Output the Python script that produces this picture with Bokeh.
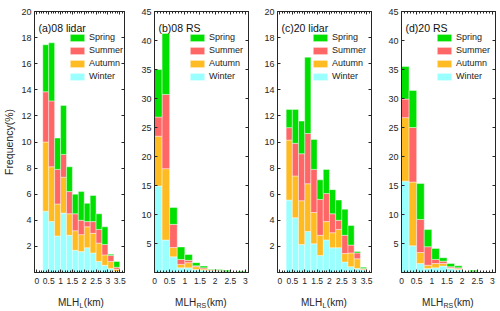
from bokeh.plotting import figure
from bokeh.layouts import row, column
from bokeh.models import (FixedTicker, LinearAxis, Legend, LegendItem, Label,
                          Range1d, ColumnDataSource, CustomJSTickFormatter)
from bokeh.embed import file_html
from bokeh.resources import INLINE

# ---------------- data ----------------
seasons = ["Winter", "Autumn", "Summer", "Spring"]          # stacking order (bottom -> top)
legend_order = ["Spring", "Summer", "Autumn", "Winter"]
season_colors = ["#99FFFF", "#FFBB22", "#FF6666", "#00E000"]

# lower edges of the 0.25 km bins
lidar_bin_left = [0.25, 0.5, 0.75, 1.0, 1.25, 1.5, 1.75, 2.0, 2.25, 2.5, 2.75, 3.0, 3.25]
rs_bin_left = [0.0, 0.25, 0.5, 0.75, 1.0, 1.25, 1.5, 1.75, 2.0, 2.25, 2.5, 2.75]
bin_width = 0.25

# (a) 08 lidar, frequency (%) per season
a_winter = [4.7, 3.9, 2.8, 4.55, 2.85, 1.7, 1.6, 1.9, 1.5, 0.85, 0.55, 0.3, 0.1]
a_autumn = [5.3, 4.2, 2.45, 2.75, 1.65, 1.5, 1.3, 1.6, 1.5, 1.4, 0.8, 0.55, 0.15]
a_summer = [3.85, 5.05, 2.65, 1.75, 1.7, 1.3, 1.1, 0.4, 0.9, 1.05, 0.8, 0.45, 0.15]
a_spring = [3.6, 4.45, 2.4, 3.75, 1.9, 1.5, 2.2, 1.4, 2.0, 1.2, 1.35, 0.1, 0.45]

# (b) 08 RS
b_winter = [14.9, 5.6, 2.7, 0.8, 0.8, 0.5, 0.4, 0.25, 0.2, 0.05, 0.02, 0.05]
b_autumn = [8.6, 12.3, 1.6, 0.6, 0.9, 0.5, 0.2, 0.15, 0.1, 0.05, 0.0, 0.0]
b_summer = [3.3, 12.8, 4.0, 0.85, 0.4, 0.15, 0.2, 0.1, 0.1, 0.05, 0.0, 0.0]
b_spring = [8.2, 10.5, 2.9, 2.15, 1.0, 0.55, 0.3, 0.1, 0.1, 0.25, 0.03, 0.15]

# (c) 20 lidar
c_winter = [5.55, 4.2, 2.15, 3.15, 2.2, 1.3, 2.5, 1.9, 1.9, 0.8, 0.45, 0.3, 0.2]
c_autumn = [4.6, 3.2, 3.35, 3.65, 2.4, 1.55, 1.4, 1.15, 1.4, 0.65, 1.05, 0.75, 0.05]
c_summer = [0.95, 2.5, 3.6, 3.85, 3.3, 2.75, 2.15, 1.45, 0.7, 1.4, 0.6, 0.45, 0.05]
c_spring = [1.4, 2.6, 2.5, 5.85, 2.3, 1.5, 1.85, 1.85, 1.55, 2.0, 1.5, 0.1, 0.1]

# (d) 20 RS
d_winter = [15.75, 4.6, 1.55, 0.7, 0.8, 1.1, 0.7, 0.5, 0.05, 0.1, 0.05, 0.03]
d_autumn = [10.95, 11.0, 1.9, 0.55, 0.75, 0.45, 0.1, 0.15, 0.02, 0.02, 0.0, 0.0]
d_summer = [3.2, 9.4, 5.7, 3.2, 0.7, 0.4, 0.2, 0.15, 0.02, 0.02, 0.0, 0.0]
d_spring = [5.6, 6.4, 6.2, 2.95, 1.9, 0.6, 0.55, 0.35, 0.05, 0.25, 0.05, 0.03]

panel_titles = ["(a)08 lidar", "(b)08 RS", "(c)20 lidar", "(d)20 RS"]
y_label = "Frequency(%)"

lidar_xticks = [0, 0.5, 1, 1.5, 2, 2.5, 3, 3.5]
lidar_xtick_labels = ["0", "0.5", "1", "1.5", "2", "2.5", "3", "3.5"]
rs_xticks = [0, 0.5, 1, 1.5, 2, 2.5, 3]
rs_xtick_labels = ["0", "0.5", "1", "1.5", "2", "2.5", "3"]
lidar_yticks = [2, 4, 6, 8, 10, 12, 14, 16, 18, 20]
rs_yticks = [5, 10, 15, 20, 25, 30, 35, 40, 45]

# ---------------- styling ----------------
FONT = "Liberation Sans"
AXC = "#262626"
FRAME_W = 96
FRAME_H = 261
TOP = 11
BOTTOM = 18
LABEL_H = 21


def empty_fmt():
    return CustomJSTickFormatter(code="return ''")


def style_axis(ax, label_size="9px", standoff=3):
    ax.axis_line_color = AXC
    ax.axis_line_width = 1
    ax.major_tick_line_color = AXC
    ax.minor_tick_line_color = AXC
    ax.major_tick_in = 3
    ax.major_tick_out = 0
    ax.minor_tick_in = 2
    ax.minor_tick_out = 0
    ax.major_label_text_font = FONT
    ax.major_label_text_font_size = label_size
    ax.major_label_text_color = AXC
    ax.major_label_standoff = standoff


def make_panel(title, winter, autumn, summer, spring, bin_left, xrange, xticks,
               xtick_labels, yrange, yticks, sub, width, left, right, ylabel=None):
    p = figure(width=width, height=FRAME_H + TOP + BOTTOM,
               x_range=Range1d(*xrange), y_range=Range1d(*yrange),
               output_backend="svg", toolbar_location=None)
    p.min_border_left = left
    p.min_border_right = right
    p.min_border_top = TOP
    p.min_border_bottom = BOTTOM
    p.xgrid.visible = False
    p.ygrid.visible = False
    p.outline_line_color = AXC
    p.outline_line_width = 1
    p.background_fill_color = "white"
    p.border_fill_color = "white"

    centers = [b + bin_width / 2 for b in bin_left]
    src = ColumnDataSource(dict(x=centers, Winter=winter, Autumn=autumn,
                                Summer=summer, Spring=spring))
    rends = p.vbar_stack(seasons, x="x", width=bin_width, source=src,
                         fill_color=season_colors, line_color="white",
                         line_width=0.6, line_alpha=0.7)

    minor = [round(i * 0.1, 2) for i in range(int(xrange[1] * 10) + 2)
             if xrange[0] <= i * 0.1 <= xrange[1]]
    xa = p.xaxis[0]
    xa.ticker = FixedTicker(ticks=xticks, minor_ticks=minor)
    xa.major_label_overrides = {t: l for t, l in zip(xticks, xtick_labels)}
    style_axis(xa, label_size="8.5px", standoff=5)
    ya = p.yaxis[0]
    ya.ticker = FixedTicker(ticks=yticks, minor_ticks=[])
    style_axis(ya, label_size="9px", standoff=3)
    if ylabel:
        ya.axis_label = ylabel
        ya.axis_label_text_font = FONT
        ya.axis_label_text_font_size = "10.5px"
        ya.axis_label_text_font_style = "normal"
        ya.axis_label_text_color = AXC
        ya.axis_label_standoff = 3

    top_ax = LinearAxis(ticker=FixedTicker(ticks=xticks, minor_ticks=minor),
                        formatter=empty_fmt())
    style_axis(top_ax, label_size="1px", standoff=0)
    p.add_layout(top_ax, "above")
    right_ax = LinearAxis(ticker=FixedTicker(ticks=yticks, minor_ticks=[]),
                          formatter=empty_fmt())
    style_axis(right_ax, label_size="1px", standoff=0)
    p.add_layout(right_ax, "right")

    # legend (Spring on top)
    rmap = dict(zip(seasons, rends))
    items = [LegendItem(label=s, renderers=[rmap[s]]) for s in legend_order]
    leg = Legend(items=items, location=(34, 191), orientation="vertical",
                 glyph_width=18, glyph_height=9, label_height=9,
                 label_standoff=3, spacing=3, padding=0, margin=0,
                 border_line_color=None, background_fill_alpha=0,
                 label_text_font=FONT, label_text_font_size="9px",
                 label_text_color="#222222")
    p.add_layout(leg, "center")

    # panel title
    p.add_layout(Label(x=4, y=FRAME_H - 16, x_units="screen", y_units="screen",
                       text=title, text_font=FONT, text_font_size="10.5px",
                       text_color="#111111", text_baseline="alphabetic"))

    # x-label strip (separate small figure; its frame aligns with the panel frame)
    lf = figure(width=width, height=LABEL_H, output_backend="svg",
                toolbar_location=None, x_range=Range1d(0, 1), y_range=Range1d(0, 1),
                x_axis_type=None, y_axis_type=None, min_border=0)
    lf.min_border_left = 0
    lf.min_border_right = 0
    lf.min_border_top = 0
    lf.min_border_bottom = 0
    lf.outline_line_color = None
    lf.grid.visible = False
    lf.background_fill_color = "white"
    lf.border_fill_color = "white"

    main_w = 21.1
    sub_w = 3.9 if sub == "L" else 9.7
    tot = main_w + sub_w + 20.0
    x0 = FRAME_W / 2 - 2 - tot / 2 + main_w
    base = 9
    lf.add_layout(Label(x=x0, y=base, x_units="screen", y_units="screen",
                        text="MLH", text_font=FONT, text_font_size="10px",
                        text_color=AXC, text_align="right", text_baseline="alphabetic"))
    lf.add_layout(Label(x=x0 + 0.3, y=base - 3, x_units="screen", y_units="screen",
                        text=sub, text_font=FONT, text_font_size="7px",
                        text_color=AXC, text_align="left", text_baseline="alphabetic"))
    lf.add_layout(Label(x=x0 + sub_w + 0.8, y=base, x_units="screen", y_units="screen",
                        text="(km)", text_font=FONT, text_font_size="10px",
                        text_color=AXC, text_align="left", text_baseline="alphabetic"))
    return column(p, lf, spacing=0)


pa = make_panel(panel_titles[0], a_winter, a_autumn, a_summer, a_spring, lidar_bin_left,
                (-0.1, 3.7), lidar_xticks, lidar_xtick_labels, (0, 20), lidar_yticks,
                "L", 138, 28, 14, ylabel=y_label)
pb = make_panel(panel_titles[1], b_winter, b_autumn, b_summer, b_spring, rs_bin_left,
                (0, 3.1), rs_xticks, rs_xtick_labels, (0, 45), rs_yticks,
                "RS", 123, 14, 13)
pc = make_panel(panel_titles[2], c_winter, c_autumn, c_summer, c_spring, lidar_bin_left,
                (-0.1, 3.7), lidar_xticks, lidar_xtick_labels, (0, 20), lidar_yticks,
                "L", 124, 14, 14)
pd = make_panel(panel_titles[3], d_winter, d_autumn, d_summer, d_spring, rs_bin_left,
                (0, 3.1), rs_xticks, rs_xtick_labels, (0, 45), rs_yticks,
                "RS", 115, 14, 5)

layout = row(pa, pb, pc, pd, spacing=0)
open("out.html", "w").write(file_html(layout, INLINE))
